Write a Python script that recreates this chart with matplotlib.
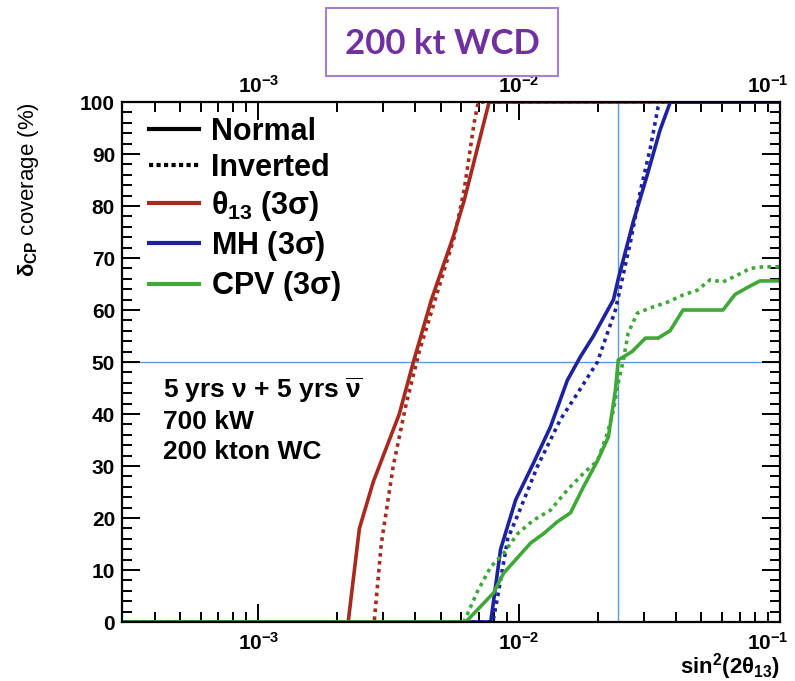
import matplotlib
matplotlib.use("Agg")
import matplotlib.pyplot as plt
from matplotlib.lines import Line2D
from matplotlib.patches import Rectangle
from matplotlib.ticker import LogLocator, MultipleLocator
from matplotlib.transforms import ScaledTranslation

plt.rcParams.update({
    "font.family": "Liberation Sans",
    "font.weight": "bold",
    "mathtext.fontset": "custom",
    "mathtext.rm": "Liberation Sans:bold",
    "mathtext.it": "Liberation Sans",
    "mathtext.bf": "Liberation Sans:bold",
})

# sin^2(2 theta13) vs delta_CP coverage (%)
th13_norm_x = [3e-4, 2.21e-3, 2.44e-3, 2.76e-3, 3.47e-3, 3.93e-3, 4.61e-3, 5.58e-3, 6.15e-3, 7.67e-3, 0.1]
th13_norm_y = [0, 0, 18, 27, 40, 50, 62, 74, 81, 100, 100]
th13_inv_x = [3e-4, 2.78e-3, 2.96e-3, 3.29e-3, 3.69e-3, 4.14e-3, 4.90e-3, 5.64e-3, 6.15e-3, 6.72e-3, 6.97e-3, 0.1]
th13_inv_y = [0, 0, 15, 30, 42, 52, 64, 74, 83, 96, 100, 100]

mh_norm_x = [3e-4, 7.78e-3, 8.49e-3, 9.70e-3, 1.136e-2, 1.318e-2, 1.531e-2, 1.717e-2, 1.927e-2,
             2.30e-2, 2.40e-2, 2.74e-2, 3.10e-2, 3.47e-2, 3.80e-2, 0.1]
mh_norm_y = [0, 0, 14, 23.5, 30.6, 37.5, 46.5, 51, 55, 62, 66, 77, 86, 94.6, 100, 100]
mh_inv_x = [3e-4, 7.93e-3, 8.35e-3, 9.04e-3, 9.96e-3, 1.177e-2, 1.442e-2, 1.675e-2, 1.996e-2,
            2.34e-2, 2.67e-2, 2.92e-2, 3.18e-2, 3.41e-2, 3.51e-2, 0.1]
mh_inv_y = [0, 0, 6, 16, 21, 30, 39, 44, 50, 60, 73, 83, 91, 99, 100, 100]

cpv_norm_x = [3e-4, 6.24e-3, 7.98e-3, 8.72e-3, 1.107e-2, 1.241e-2, 1.403e-2, 1.574e-2, 1.765e-2,
              1.997e-2, 2.20e-2, 2.34e-2, 2.40e-2, 2.71e-2, 3.05e-2, 3.41e-2, 3.79e-2, 4.25e-2,
              6.05e-2, 6.73e-2, 7.68e-2, 8.39e-2, 0.1]
cpv_norm_y = [0, 0, 5.6, 9.4, 15.2, 17, 19.3, 21, 26, 31, 35.6, 44.6, 50.4, 52, 54.6, 54.6, 56, 60,
              60, 63, 64.6, 65.6, 65.6]
cpv_inv_x = [3e-4, 6.14e-3, 6.94e-3, 7.78e-3, 8.72e-3, 9.87e-3, 1.136e-2, 1.318e-2, 1.531e-2,
             1.765e-2, 1.997e-2, 2.18e-2, 2.30e-2, 2.40e-2, 2.51e-2, 2.62e-2, 2.84e-2, 3.18e-2,
             3.70e-2, 4.25e-2, 4.82e-2, 5.40e-2, 6.05e-2, 6.86e-2, 7.68e-2, 8.61e-2, 0.1]
cpv_inv_y = [0, 0, 6, 10.6, 13.2, 17, 19.6, 21.5, 25.4, 28.6, 31, 36.3, 40.8, 46, 50.4, 55.6, 59.4,
             60.4, 61.5, 62.9, 63.8, 65.8, 65.4, 66.7, 68, 68.3, 68.3]

ref_x = 2.4e-2
ref_y = 50

RED = "#a82a1e"
BLUE = "#1c22a0"
GREEN = "#3fa838"
REF = "#5b9bd5"

fig = plt.figure(figsize=(7.95, 6.81), dpi=100)
ax = fig.add_axes([0.1535, 0.0866, 0.8275, 0.7636])

ax.axvline(ref_x, color=REF, lw=1.0, zorder=1)
ax.axhline(ref_y, color=REF, lw=1.0, zorder=1)

lw = 2.6
dots = (0, (1, 1.2))
ax.plot(th13_norm_x, th13_norm_y, color=RED, lw=lw)
ax.plot(th13_inv_x, th13_inv_y, color=RED, lw=lw, ls=dots)
ax.plot(mh_norm_x, mh_norm_y, color=BLUE, lw=lw)
ax.plot(mh_inv_x, mh_inv_y, color=BLUE, lw=lw, ls=dots)
ax.plot(cpv_norm_x, cpv_norm_y, color=GREEN, lw=lw)
ax.plot(cpv_inv_x, cpv_inv_y, color=GREEN, lw=lw, ls=dots)

ax.set_xscale("log")
ax.set_xlim(3e-4, 0.1)
ax.set_ylim(0, 100)
ax.xaxis.set_major_locator(LogLocator(base=10, numticks=10))
ax.xaxis.set_minor_locator(LogLocator(base=10, subs=range(2, 10), numticks=20))
ax.yaxis.set_major_locator(MultipleLocator(10))
ax.yaxis.set_minor_locator(MultipleLocator(2))
ax.tick_params(which="both", direction="in", top=True, right=True, labeltop=True,
               labelsize=15, width=1.4)
ax.tick_params(axis="x", pad=7)
ax.tick_params(axis="y", pad=5)
ax.tick_params(which="major", length=13)
ax.tick_params(which="minor", length=7)
for s in ax.spines.values():
    s.set_linewidth(1.6)

ax.set_ylabel(r"$\delta_{CP}$ coverage (%)", loc="top", fontsize=16,
              fontweight="normal", labelpad=28)
ax.set_xlabel(r"sin$^{2}$(2$\theta_{13}$)", loc="right", fontsize=16,
              fontweight="bold", labelpad=-2)

handles = [
    Line2D([], [], color="black", lw=3),
    Line2D([], [], color="black", lw=3, ls=(0, (1, 0.8))),
    Line2D([], [], color=RED, lw=3),
    Line2D([], [], color=BLUE, lw=3),
    Line2D([], [], color=GREEN, lw=3),
]
labels = ["Normal", "Inverted", r"$\theta_{13}$ (3$\sigma$)", r"MH (3$\sigma$)",
          r"CPV (3$\sigma$)"]
ax.legend(handles, labels, loc="upper left", frameon=False, fontsize=22,
          handlelength=1.65, handletextpad=0.4, labelspacing=0.2,
          borderaxespad=0.0, bbox_to_anchor=(0.022, 0.995))

ax.text(0.063, 0.475, "5 yrs $\\nu$ + 5 yrs $\\overline{\\nu}$\n700 kW\n200 kton WC",
        transform=ax.transAxes, fontsize=19, va="top", ha="left", linespacing=1.3)

fig.patches.append(Rectangle((326 / 795, 1 - 76 / 681), 232 / 795, 68 / 681,
                             transform=fig.transFigure, fill=False,
                             edgecolor="#a77fd0", lw=1.5))
fig.text(442 / 795, 1 - 44 / 681, "200 kt WCD", family="Lato", fontweight="bold",
         fontsize=25, color="#7030a0", ha="center", va="center")

# nudge tick labels: 10^-1 in from the edge, top row a bit closer to the frame
fig.canvas.draw()
left = ScaledTranslation(-0.12, 0, fig.dpi_scale_trans)
down = ScaledTranslation(0, -0.05, fig.dpi_scale_trans)
for tick in ax.xaxis.get_major_ticks():
    tick.label2.set_transform(tick.label2.get_transform() + down)
    if abs(tick.get_loc() - 0.1) < 1e-6:
        tick.label1.set_transform(tick.label1.get_transform() + left)
        tick.label2.set_transform(tick.label2.get_transform() + left)

fig.savefig("out.png", dpi=100)
